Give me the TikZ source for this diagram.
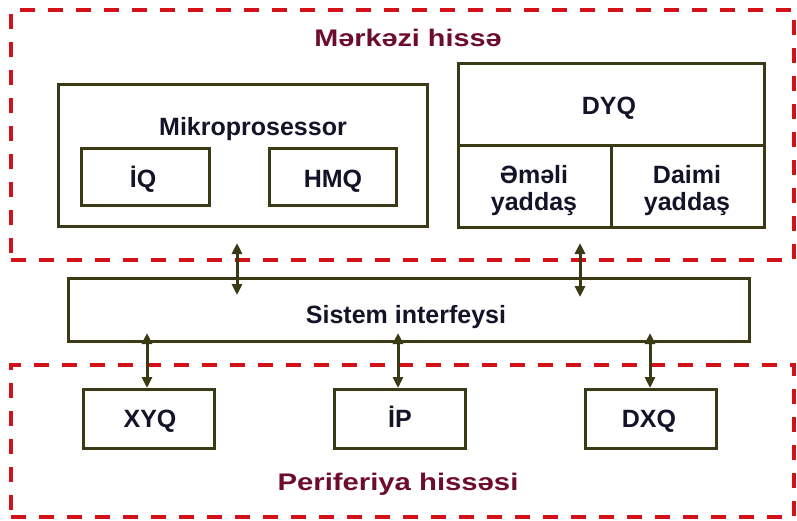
\documentclass[tikz,border=0pt]{standalone}
\usepackage{fontspec}
\setmainfont{Liberation Sans}
\usetikzlibrary{arrows.meta}
\definecolor{boxline}{RGB}{58,58,20}
\definecolor{zonered}{RGB}{212,16,24}
\definecolor{titlered}{RGB}{110,12,48}
\definecolor{labelink}{RGB}{20,20,40}
\begin{document}
\begin{tikzpicture}[x=1pt,y=-1pt,
  unit/.style={draw=boxline, line width=3pt, fill=white, inner sep=0pt},
  zone/.style={draw=zonered, line width=3.3pt, dash pattern=on 15pt off 13pt, inner sep=0pt},
  lbl/.style={font=\fontsize{25}{27}\selectfont\bfseries, text=labelink, inner sep=0pt},
  ttl/.style={font=\fontsize{24}{26}\selectfont\bfseries, text=titlered, anchor=base, inner sep=0pt},
  link/.style={draw=boxline, line width=3pt,
    {Triangle[length=11pt,width=10pt]}-{Triangle[length=11pt,width=10pt]}}
]
\useasboundingbox (0,0) rectangle (797,520);

% dashed zones
\node[zone, minimum width=783pt, minimum height=250pt] (central) at (402.5,135) {};
\node[zone, minimum width=783pt, minimum height=152pt] (periph) at (402.5,441) {};
\node[ttl] (centraltitle) at (408,46) {\scalebox{1.2}[1]{Mərkəzi hissə}};
\node[ttl] (periphtitle) at (398,490) {\scalebox{1.22}[1]{Periferiya hissəsi}};

% microprocessor
\node[unit, minimum width=369pt, minimum height=142pt] (mp) at (243,155.5) {};
\node[lbl, anchor=base] (mptext) at (253,135) {Mikroprosessor};
\node[unit, minimum width=128pt, minimum height=57pt] (iq) at (145.5,177) {};
\node[lbl, anchor=base] (iqtext) at (143,187) {İQ};
\node[unit, minimum width=127pt, minimum height=57pt] (hmq) at (333,177) {};
\node[lbl, anchor=base] (hmqtext) at (333,187) {HMQ};

% memory
\node[unit, minimum width=306pt, minimum height=82pt] (dyq) at (611.5,104) {};
\node[lbl, anchor=base] (dyqtext) at (609,114) {DYQ};
\node[unit, minimum width=153pt, minimum height=82pt] (ram) at (535,186) {};
\node[unit, minimum width=153pt, minimum height=82pt] (rom) at (688,186) {};
\node[lbl, align=center] (ramtext) at (534,191) {Əməli\\yaddaş};
\node[lbl, align=center] (romtext) at (687,191) {Daimi\\yaddaş};

% system interface
\node[unit, minimum width=681pt, minimum height=63pt] (bus) at (409,310) {};
\node[lbl, anchor=base] (bustext) at (406,323) {Sistem interfeysi};

% peripherals
\node[unit, minimum width=131pt, minimum height=59pt] (xyq) at (148.5,419) {};
\node[lbl, anchor=base] (xyqtext) at (150,427) {XYQ};
\node[unit, minimum width=131pt, minimum height=59pt] (ip) at (400,419) {};
\node[lbl, anchor=base] (iptext) at (400,427) {İP};
\node[unit, minimum width=131pt, minimum height=59pt] (dxq) at (650.5,419) {};
\node[lbl, anchor=base] (dxqtext) at (649,427) {DXQ};

% connector ends
\coordinate (mpout) at (237,243);
\coordinate (busmp) at (237,295);
\coordinate (memout) at (580,243);
\coordinate (busmem) at (580,297);
\coordinate (busx) at (147,333);
\coordinate (busi) at (398,333);
\coordinate (busd) at (650,333);

\draw[link] (mpout) -- (busmp);
\draw[link] (memout) -- (busmem);
\draw[link] (busx) -- (xyq.north -| busx);
\draw[link] (busi) -- (ip.north -| busi);
\draw[link] (busd) -- (dxq.north -| busd);
\end{tikzpicture}
\end{document}
